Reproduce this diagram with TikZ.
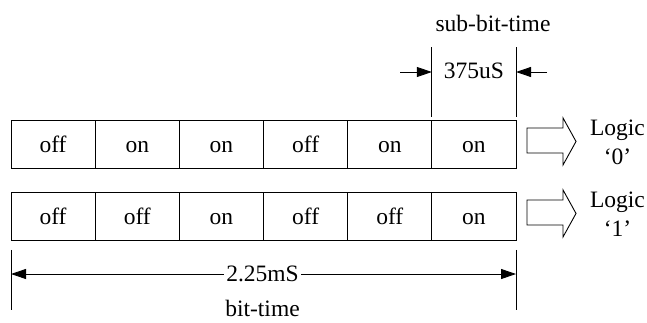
\documentclass[tikz,border=0pt]{standalone}
\usepackage{fontspec}
\setmainfont{Liberation Serif}
\usetikzlibrary{arrows.meta}
\begin{document}
\begin{tikzpicture}[x=1pt,y=-1pt,
  cell/.style={draw, line width=0.9pt, minimum width=84.17pt, minimum height=47.5pt,
    inner sep=0pt, outer sep=0pt, anchor=north west, text height=17pt, text depth=0pt,
    font=\fontsize{23.5}{28}\selectfont},
  lbl/.style={inner sep=0pt, font=\fontsize{23.5}{28}\selectfont},
  dim/.style={line width=0.9pt, -{Triangle[length=15pt,width=10pt]}},
  tick/.style={line width=0.9pt},
  hollow/.style={draw, line width=0.9pt, line join=miter}]
\useasboundingbox (0,0) rectangle (647,322);

% row 1
\foreach \t [count=\i] in {off,on,on,off,on,on}
  \node[cell] (a\i) at ({11+84.17*(\i-1)},120.7) {\t};
% row 2
\foreach \t [count=\i] in {off,off,on,off,off,on}
  \node[cell] (b\i) at ({11+84.17*(\i-1)},192.7) {\t};

% hollow arrows
\draw[hollow, shift={(a6.east)}] (11,-16.5) -- (47,-16.5) -- (47,-26.5) -- (60,-3)
  -- (47,20.5) -- (47,8.5) -- (11,8.5) -- cycle;
\draw[hollow, shift={(b6.east)}] (11,-16.5) -- (47,-16.5) -- (47,-26.5) -- (60,-3)
  -- (47,20.5) -- (47,8.5) -- (11,8.5) -- cycle;

% logic labels
\node[lbl, anchor=base] (l0a) at (617.5,135) {Logic};
\node[lbl, anchor=base] (l0b) at (617.5,164) {‘0’};
\node[lbl, anchor=base] (l1a) at (617.5,207.5) {Logic};
\node[lbl, anchor=base] (l1b) at (617.5,236.5) {‘1’};

% sub-bit-time dimension
\coordinate (s1t) at ([yshift=73.7pt]a6.north west);
\coordinate (s1b) at ([yshift=3.7pt]a6.north west);
\coordinate (s2t) at ([yshift=73.7pt]a6.north east);
\coordinate (s2b) at ([yshift=3.7pt]a6.north east);
\draw[tick] (s1t) -- (s1b);
\draw[tick] (s2t) -- (s2b);
\coordinate (sl) at (400,72);
\coordinate (sr) at (547,72);
\draw[dim] (sl) -- (s1t |- sl);
\draw[dim] (sr) -- (s2t |- sr);
\node[lbl, anchor=base] (sub) at (473.9,78) {375uS};
\node[lbl, anchor=base] (subt) at (493,31.7) {sub-bit-time};

% bit-time dimension
\coordinate (t1t) at ([yshift=-9.7pt]b1.south west);
\coordinate (t1b) at ([yshift=-69.7pt]b1.south west);
\coordinate (t2t) at ([yshift=-9.7pt]b6.south east);
\coordinate (t2b) at ([yshift=-69.7pt]b6.south east);
\draw[tick] (t1t) -- (t1b);
\draw[tick] (t2t) -- (t2b);
\node[lbl, inner xsep=2.5pt] (bt) at (262.5,274) {2.25mS};
\draw[dim] (bt.west) -- (t1t |- bt.west);
\draw[dim] (bt.east) -- (t2t |- bt.east);
\node[lbl, anchor=base] (btl) at (262.5,316.5) {bit-time};
\end{tikzpicture}
\end{document}
